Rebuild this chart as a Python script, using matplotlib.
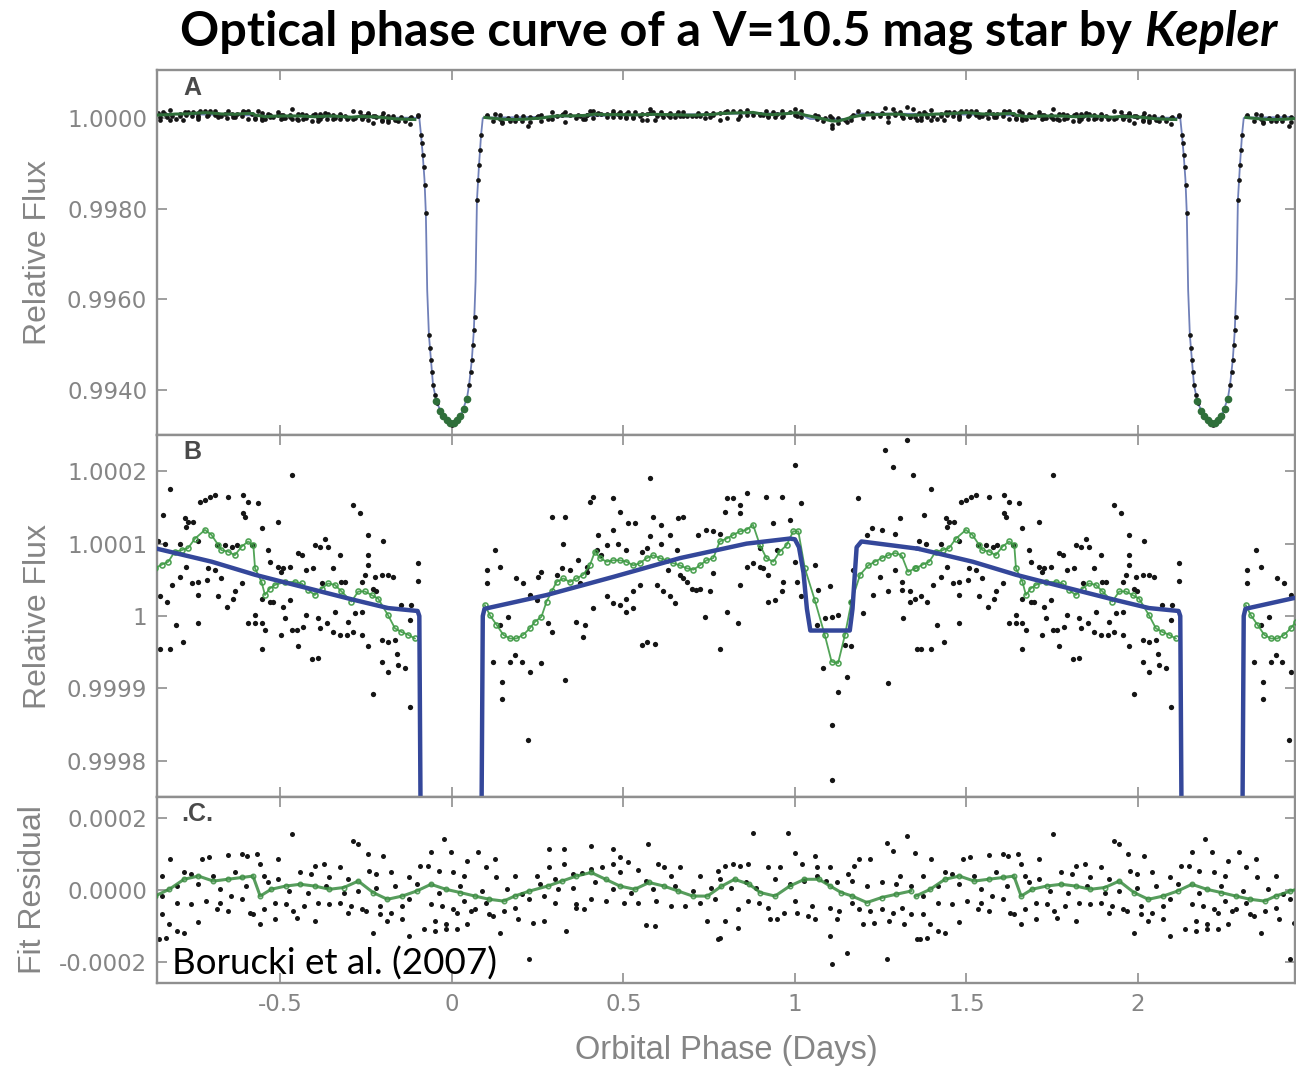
import numpy as np
import matplotlib
matplotlib.use('Agg')
from matplotlib import pyplot as plt

# orbital period used to fold the data (days)
period = 2.2186

# out-of-transit flux, (phase in days, deviation from 1 in ppm)
flux_dots = [
    # before transit
    (-0.467, 195), (-0.822, 176), (-0.842, 139), (-0.735, 158), (-0.720, 160), (-0.706, 165), (-0.691, 167),
    (-0.652, 165), (-0.608, 167), (-0.594, 158), (-0.565, 156), (-0.608, 142), (-0.604, 137), (-0.778, 135),
    (-0.769, 130), (-0.754, 130), (-0.774, 123), (-0.506, 130), (-0.555, 121), (-0.288, 153), (-0.268, 142),
    (-0.244, 112), (-0.200, 103), (-0.098, 73), (-0.098, 48), (-0.856, 103), (-0.837, 100), (-0.793, 100),
    (-0.740, 103), (-0.686, 98), (-0.662, 98), (-0.642, 96), (-0.628, 98), (-0.584, 98), (-0.400, 98),
    (-0.385, 96), (-0.370, 107), (-0.361, 96), (-0.536, 91), (-0.448, 87), (-0.438, 84), (-0.327, 84),
    (-0.244, 84), (-0.531, 75), (-0.506, 68), (-0.492, 66), (-0.472, 68), (-0.497, 61), (-0.424, 64),
    (-0.404, 66), (-0.346, 66), (-0.244, 70), (-0.254, 57), (-0.225, 54), (-0.205, 57), (-0.186, 57),
    (-0.171, 54), (-0.793, 54), (-0.774, 68), (-0.817, 43), (-0.759, 45), (-0.740, 47), (-0.715, 50),
    (-0.672, 52), (-0.613, 45), (-0.633, 34), (-0.638, 24), (-0.681, 27), (-0.740, 29), (-0.710, 66),
    (-0.691, 64), (-0.851, 27), (-0.832, 20), (-0.657, 13), (-0.555, 24), (-0.531, 20), (-0.521, 20),
    (-0.472, 22), (-0.492, 13), (-0.380, 45), (-0.322, 47), (-0.312, 47), (-0.263, 47), (-0.229, 38),
    (-0.220, 34), (-0.147, 15), (-0.118, 15), (-0.574, 1), (-0.594, -10), (-0.574, -10), (-0.555, -10),
    (-0.545, -19), (-0.487, -3), (-0.424, 1), (-0.390, -3), (-0.365, -10), (-0.341, 6), (-0.302, -8),
    (-0.283, 4), (-0.263, 6), (-0.803, -12), (-0.740, -10), (-0.497, -26), (-0.467, -19), (-0.453, -19),
    (-0.433, -15), (-0.385, -17), (-0.346, -22), (-0.327, -26), (-0.307, -26), (-0.288, -22), (-0.263, -26),
    (-0.205, -33), (-0.186, -36), (-0.166, -33), (-0.122, -6), (-0.783, -36), (-0.851, -45), (-0.822, -45),
    (-0.555, -45), (-0.448, -42), (-0.244, -42), (-0.409, -59), (-0.390, -58), (-0.205, -63), (-0.161, -52),
    (-0.186, -77), (-0.156, -68), (-0.137, -72), (-0.229, -107), (-0.122, -125),
    # after transit
    (0.125, 91), (0.101, 64), (0.140, 68), (0.101, 45), (0.188, 52), (0.208, 45), (0.227, 29), (0.247, 22),
    (0.261, 61), (0.252, 54), (0.291, 137), (0.329, 137), (0.325, 100), (0.305, 57), (0.320, 66), (0.344, 64),
    (0.368, 77), (0.393, 68), (0.402, 158), (0.412, 165), (0.470, 163), (0.490, 144), (0.514, 128),
    (0.534, 128), (0.427, 112), (0.451, 98), (0.470, 119), (0.485, 100), (0.509, 91), (0.422, 91),
    (0.436, 84), (0.373, 45), (0.393, 61), (0.412, 11), (0.451, 27), (0.470, 18), (0.490, 15), (0.509, 24),
    (0.529, 34), (0.548, 43), (0.509, 6), (0.529, 11), (0.577, 190), (0.587, 137), (0.611, 126), (0.660, 135),
    (0.674, 137), (0.577, 110), (0.611, 100), (0.636, 112), (0.553, 89), (0.568, 94), (0.655, 91), (0.597, 43),
    (0.616, 34), (0.636, 27), (0.650, 18), (0.665, 57), (0.674, 52), (0.684, 47), (0.699, 38), (0.713, 36),
    (0.723, 38), (0.752, 34), (0.631, 64), (0.762, 59), (0.718, 112), (0.742, 119), (0.762, 117), (0.781, 114),
    (0.801, 163), (0.820, 163), (0.840, 153), (0.840, 142), (0.859, 170), (0.796, 144), (0.917, 165),
    (0.961, 165), (0.985, 133), (0.937, 128), (1.000, 209), (0.898, 94), (0.947, 91), (0.859, 68), (0.878, 73),
    (0.898, 68), (0.908, 66), (0.922, 57), (0.840, 43), (0.966, 47), (0.961, 34), (0.922, 20), (0.942, 22),
    (0.738, -1), (0.801, 6), (0.835, -10), (0.781, -45), (0.553, -40), (0.568, -36), (0.592, -39), (0.363, -8),
    (0.388, -12), (0.383, -29), (0.120, -63), (0.169, -63), (0.184, -54), (0.203, -63), (0.261, -65),
    (0.227, -77), (0.145, -91), (0.145, -114), (0.329, -88), (0.223, -171), (0.281, -10), (0.291, -22),
    (0.164, -2), (0.140, -12),
    # around secondary eclipse
    (1.019, 156), (1.000, 75), (1.005, 47), (1.058, 70), (1.068, 36), (1.102, 41), (1.019, 27), (1.063, -12),
    (1.087, -3), (1.107, -1), (1.126, 1), (1.083, -72), (1.126, -105), (1.151, -84), (1.107, -151),
    (1.107, -227), (1.146, -40), (1.165, -42), (1.170, 64), (1.165, 20), (1.199, 4), (1.185, 163),
    (1.209, 112), (1.224, 121), (1.253, 119), (1.262, 230), (1.287, 206), (1.326, 243), (1.345, 195),
    (1.292, 114), (1.306, 135), (1.292, 64), (1.228, 29), (1.272, 34), (1.248, 54), (1.311, 47), (1.311, 36),
    (1.335, 34), (1.335, 20), (1.350, 24), (1.316, -3), (1.355, -45), (1.272, -93),
]

# in-transit flux (phase, ppm)
transit_dots = [
    (-0.090, -375), (-0.088, -550), (-0.085, -815), (-0.082, -1080), (-0.079, -1480), (-0.076, -2100),
    (-0.067, -4790), (-0.064, -5070), (-0.061, -5340), (-0.058, -5600), (-0.055, -5890), (-0.050, -6110),
    (-0.044, -6280), (-0.035, -6440), (-0.026, -6550), (-0.018, -6660), (-0.009, -6700), (0.000, -6770),
    (0.009, -6720), (0.018, -6660), (0.026, -6550), (0.035, -6400), (0.044, -6170), (0.050, -5890),
    (0.055, -5600), (0.058, -5340), (0.061, -5000), (0.064, -4680), (0.067, -4390), (0.073, -1810),
    (0.076, -1370), (0.079, -1040), (0.082, -710), (0.085, -375),
]

# binned flux (green), split around the transit
binned_pre = [
    (-0.866, 66), (-0.846, 71), (-0.827, 75), (-0.808, 89), (-0.788, 91), (-0.769, 94), (-0.749, 107),
    (-0.720, 119), (-0.701, 112), (-0.681, 98), (-0.672, 91), (-0.652, 89), (-0.633, 84), (-0.613, 96),
    (-0.594, 103), (-0.579, 98), (-0.574, 66), (-0.555, 47), (-0.545, 29), (-0.531, 38), (-0.516, 43),
    (-0.487, 47), (-0.458, 47), (-0.438, 45), (-0.419, 36), (-0.400, 29), (-0.380, 38), (-0.361, 45),
    (-0.341, 43), (-0.322, 34), (-0.293, 20), (-0.273, 34), (-0.254, 34), (-0.234, 29), (-0.215, 24),
    (-0.186, 1), (-0.166, -17), (-0.147, -22), (-0.127, -26), (-0.108, -31),
]
binned_post = [
    (0.096, 15), (0.111, 1), (0.130, -12), (0.150, -26), (0.169, -31), (0.188, -31), (0.208, -26),
    (0.227, -17), (0.242, -8), (0.261, -1), (0.276, 20), (0.291, 34), (0.305, 47), (0.325, 52), (0.344, 47),
    (0.363, 52), (0.383, 57), (0.402, 70), (0.417, 89), (0.432, 80), (0.451, 75), (0.470, 77), (0.490, 77),
    (0.509, 75), (0.529, 70), (0.548, 73), (0.568, 80), (0.587, 84), (0.606, 80), (0.626, 77), (0.645, 73),
    (0.665, 70), (0.684, 66), (0.704, 64), (0.723, 70), (0.742, 77), (0.762, 80), (0.781, 103), (0.801, 107),
    (0.820, 112), (0.840, 117), (0.859, 119), (0.878, 126), (0.898, 98), (0.917, 80), (0.937, 75),
    (0.956, 89), (0.976, 98), (0.995, 117), (1.010, 117), (1.029, 66), (1.058, 22), (1.087, -26),
    (1.107, -63), (1.126, -65), (1.146, -26), (1.165, 20), (1.190, 57), (1.214, 70), (1.233, 75),
    (1.253, 80), (1.272, 84), (1.292, 87), (1.311, 84), (1.330, 61), (1.350, 66),
]
binned_transit = [
    (-0.045, -6250), (-0.035, -6450), (-0.025, -6560), (-0.015, -6660), (-0.005, -6720),
    (0.005, -6720), (0.015, -6650), (0.025, -6560), (0.035, -6420), (0.045, -6200),
]

# model light curve (phase, ppm)
model = [
    (-0.860, 93), (-0.700, 75), (-0.574, 57), (-0.500, 48), (-0.283, 22), (-0.186, 11), (-0.100, 7),
    (-0.095, 0), (-0.090, -375), (-0.085, -815), (-0.080, -1350), (-0.076, -2100), (-0.072, -3800),
    (-0.067, -4790), (-0.061, -5340), (-0.055, -5890), (-0.044, -6280), (-0.030, -6500), (-0.015, -6670),
    (0.000, -6740), (0.015, -6660), (0.030, -6480), (0.044, -6170), (0.050, -5890), (0.058, -5340),
    (0.064, -4680), (0.069, -3600), (0.073, -1810), (0.079, -1040), (0.085, -375), (0.090, 0),
    (0.095, 10), (0.276, 29), (0.470, 54), (0.665, 80), (0.859, 100), (0.985, 107), (1.000, 106),
    (1.012, 95), (1.025, 60), (1.035, 10), (1.045, -20), (1.160, -20), (1.168, 10), (1.175, 60),
    (1.180, 95), (1.194, 103), (1.359, 93),
]

# residuals of the fit (phase, ppm)
resid_dots = [
    (-0.465, 156), (-0.288, 137), (-0.273, 128), (-0.023, 144), (0.284, 116), (0.326, 114), (0.406, 123),
    (0.469, 116), (0.573, 128), (-0.821, 88), (-0.728, 86), (-0.707, 91), (-0.654, 97), (-0.612, 100),
    (-0.596, 95), (-0.569, 100), (-0.559, 72), (-0.506, 88), (-0.400, 67), (-0.373, 72), (-0.326, 63),
    (-0.246, 100), (-0.200, 95), (-0.061, 105), (-0.002, 106), (0.077, 106), (0.045, 81), (0.125, 86),
    (0.326, 72), (0.491, 93), (0.512, 78), (0.284, 63), (0.438, 63), (0.379, 47), (0.406, 58), (0.469, 72),
    (0.544, 56), (0.602, 72), (0.618, 63), (0.665, 63), (0.724, 39), (0.777, 53), (-0.845, 39), (-0.781, 49),
    (-0.760, 44), (-0.696, 39), (-0.633, 49), (-0.548, 39), (-0.506, 30), (-0.442, 49), (-0.410, 44),
    (-0.357, 35), (-0.304, 30), (-0.241, 53), (-0.220, 44), (-0.177, 49), (-0.124, 35), (-0.092, 67),
    (-0.071, 67), (-0.039, 53), (0.003, 49), (0.035, 39), (0.098, 63), (0.130, 35), (0.183, 39), (0.247, 39),
    (0.300, 30), (0.353, 44), (0.491, 49), (0.565, 25), (0.639, 39), (-0.845, -17), (-0.802, -35),
    (-0.760, -40), (-0.718, -31), (-0.675, -35), (-0.643, -17), (-0.612, -26), (-0.580, -68), (-0.548, -54),
    (-0.516, -35), (-0.485, -40), (-0.463, -59), (-0.431, -45), (-0.389, -35), (-0.357, -40), (-0.326, -35),
    (-0.294, -45), (-0.262, -54), (-0.209, -45), (-0.177, -63), (-0.145, -45), (-0.124, -26), (-0.061, -40),
    (-0.029, -45), (0.003, -54), (0.035, -31), (0.067, -54), (0.098, -35), (0.120, -73), (0.151, -59),
    (0.183, -49), (0.226, -26), (0.268, -17), (0.300, -35), (0.363, -40), (0.406, -26), (0.448, -31),
    (0.501, -35), (0.544, -35), (0.596, -31), (0.639, -45), (0.681, -45), (0.724, -35), (0.766, -26),
    (-0.845, -68), (-0.824, -96), (-0.739, -89), (-0.686, -54), (-0.654, -59), (-0.590, -63), (-0.559, -96),
    (-0.516, -82), (-0.453, -77), (-0.400, -87), (-0.304, -63), (-0.251, -59), (-0.209, -68), (-0.188, -87),
    (-0.145, -82), (-0.050, -87), (-0.018, -96), (0.014, -63), (0.056, -59), (0.109, -68), (0.194, -82),
    (0.236, -91), (0.268, -87), (0.363, -49), (0.385, -54), (0.565, -99), (0.591, -102), (0.745, -87),
    (-0.802, -115), (-0.781, -119), (-0.855, -138), (-0.834, -133), (-0.230, -119), (-0.124, -128),
    (-0.082, -110), (-0.050, -115), (-0.018, -110), (0.014, -110), (0.045, -96), (0.141, -119), (0.332, -115),
    (0.226, -194), (0.777, -138),
    (-0.802, 11), (-0.739, 16), (-0.675, 2), (-0.601, 11), (-0.537, 21), (-0.474, -3), (-0.421, -7),
    (-0.368, 11), (-0.315, -7), (-0.273, -3), (-0.220, 7), (-0.167, 11), (-0.103, 16), (-0.039, -7),
    (0.024, 11), (0.088, -3), (0.162, 2), (0.204, -12), (0.257, 16), (0.310, 2), (0.353, 7), (0.416, 21),
    (0.469, 2), (0.522, -7), (0.586, 2), (0.649, 11), (0.702, -3), (0.755, 7),
    (0.878, 159), (0.979, 159), (0.797, 67), (0.819, 72), (0.840, 67), (0.862, 72), (0.921, 65), (0.958, 63),
    (1.001, 104), (1.022, 72), (1.060, 95), (1.065, 63), (1.103, 65), (1.188, 86), (1.172, 67), (1.220, 86),
    (1.269, 132), (1.285, 109), (1.328, 151), (1.349, 103), (0.781, 30), (0.813, 7), (0.856, 21), (0.888, 7),
    (0.942, 30), (0.985, 16), (1.028, 25), (1.065, 39), (1.092, 25), (1.124, 21), (1.156, 44), (1.167, 25),
    (1.210, 11), (1.253, 21), (1.295, 16), (1.306, 39), (1.338, 11), (0.862, -31), (0.894, -35), (0.921, -49),
    (0.926, -82), (0.947, -82), (0.969, -63), (1.006, -63), (1.001, -31), (1.049, -45), (1.103, -49),
    (1.130, -59), (1.167, -35), (1.188, -54), (1.220, -59), (1.253, -54), (1.285, -63), (1.312, -49),
    (1.338, -68), (0.797, -87), (0.835, -105), (0.835, -54), (0.781, -133), (1.060, -82), (1.124, -82),
    (1.199, -96), (1.231, -91), (1.274, -87), (1.317, -96), (1.357, -138), (1.103, -128), (1.151, -175),
    (1.108, -208), (1.269, -194), (1.038, -73),
]
resid_binned = [
    (-0.866, -17), (-0.824, 2), (-0.781, 30), (-0.739, 39), (-0.696, 25), (-0.654, 30), (-0.612, 35),
    (-0.580, 39), (-0.559, -17), (-0.527, 2), (-0.485, 11), (-0.442, 16), (-0.400, 11), (-0.357, 2),
    (-0.315, 7), (-0.273, 25), (-0.230, -7), (-0.188, -26), (-0.145, -17), (-0.103, -3), (-0.061, 16),
    (-0.018, 2), (0.024, -7), (0.067, -17), (0.109, -26), (0.151, -31), (0.183, -17), (0.226, -3),
    (0.279, 11), (0.321, 25), (0.363, 39), (0.406, 49), (0.448, 30), (0.490, 11), (0.533, 2), (0.575, 21),
    (0.618, 11), (0.660, -3), (0.702, -17), (0.745, -17), (0.785, 10), (0.824, 30), (0.867, 16),
    (0.899, -7), (0.942, -17), (0.985, 11), (1.028, 30), (1.070, 30), (1.103, 11), (1.135, -7), (1.167, -17),
    (1.210, -35), (1.253, -21), (1.295, -12), (1.338, -3),
]

xticks = [-0.5, 0, 0.5, 1, 1.5, 2]
xticklabels = ['-0.5', '0', '0.5', '1', '1.5', '2']
a_ticks = [0.9940, 0.9960, 0.9980, 1.0000]
a_labels = ['0.9940', '0.9960', '0.9980', '1.0000']
b_ticks = [0.9998, 0.9999, 1.0, 1.0001, 1.0002]
b_labels = ['0.9998', '0.9999', '1', '1.0001', '1.0002']
c_ticks = [-0.0002, 0.0, 0.0002]
c_labels = ['-0.0002', '0.0000', '0.0002']

gray = '#858585'
dot_col = '#151515'
green = '#3f9a45'


def arr(pairs):
    a = np.array(pairs, dtype=float)
    return a[:, 0], a[:, 1]


fig = plt.figure(figsize=(12.96, 10.66), dpi=100)
axA = fig.add_axes([0.1211, 0.5919, 0.8781, 0.3424])
axB = fig.add_axes([0.1211, 0.2523, 0.8781, 0.3396])
axC = fig.add_axes([0.1211, 0.0779, 0.8781, 0.1744])

for ax in (axA, axB, axC):
    for s in ax.spines.values():
        s.set_color('#8f8f8f')
        s.set_linewidth(1.7)
    ax.tick_params(direction='in', length=7, width=1.2, color='#8f8f8f', top=True, right=True,
                   labelsize=16.5, labelcolor=gray, pad=7)
    ax.set_xlim(-0.860, 2.458)
    ax.set_xticks(xticks)

# repeat the folded curve one period later
for shift in (0.0, period):
    ph, f = arr(model)
    axA.plot(ph + shift, 1 + f * 1e-6, color='#7080b8', lw=1.3, zorder=1)
    axB.plot(ph + shift, 1 + f * 1e-6, color='#34479a', lw=3.2, zorder=4)

    for pairs in (flux_dots, transit_dots):
        ph, f = arr(pairs)
        axA.plot(ph + shift, 1 + f * 1e-6, 'o', color=dot_col, ms=3.4, mew=0, zorder=2)
        axB.plot(ph + shift, 1 + f * 1e-6, 'o', color=dot_col, ms=3.8, mew=0, zorder=2)

    for pairs in (binned_pre, binned_post):
        ph, f = arr(pairs)
        axA.plot(ph + shift, 1 + f * 1e-6, '-', color='#2f6f3a', lw=2.2, zorder=3)
        axB.plot(ph + shift, 1 + f * 1e-6, '-o', color=green, lw=1.3, ms=3.6, mfc='none', mew=1.2,
                 zorder=3, alpha=0.9)
    ph, f = arr(binned_transit)
    axA.plot(ph + shift, 1 + f * 1e-6, 'o', color='#2f6f3a', ms=4.5, zorder=3)

    ph, f = arr(resid_dots)
    axC.plot(ph + shift, f * 1e-6, 'o', color=dot_col, ms=3.6, mew=0, zorder=2)
    ph, f = arr(resid_binned)
    axC.plot(ph + shift, f * 1e-6, '-o', color='#3a8c40', lw=2.2, ms=3.2, mfc='none', mew=1.1,
             zorder=3, alpha=0.85)

axA.set_ylim(0.99301, 1.00106)
axA.set_yticks(a_ticks)
axA.set_yticklabels(a_labels)
axB.set_ylim(0.99975, 1.00025)
axB.set_yticks(b_ticks)
axB.set_yticklabels(b_labels)
axC.set_ylim(-0.00026, 0.00026)
axC.set_yticks(c_ticks)
axC.set_yticklabels(c_labels)

axA.tick_params(labelbottom=False)
axB.tick_params(labelbottom=False)
axC.set_xticklabels(xticklabels)

lab_font = dict(fontsize=23, color=gray, family='Liberation Sans')
axA.set_ylabel('Relative Flux', **lab_font)
axB.set_ylabel('Relative Flux', **lab_font)
axC.set_ylabel('Fit Residual', **lab_font)
axA.yaxis.set_label_coords(-0.0914, 0.5)
axB.yaxis.set_label_coords(-0.0914, 0.5)
axC.yaxis.set_label_coords(-0.0958, 0.5)
axC.set_xlabel('Orbital Phase (Days)', fontsize=23.5, color=gray, family='Liberation Sans', labelpad=14)

letter = dict(fontsize=18, fontweight='bold', color='#4a4a4a', family='Liberation Sans', va='center')
axA.text(0.023, 0.951, 'A', transform=axA.transAxes, **letter)
axB.text(0.023, 0.953, 'B', transform=axB.transAxes, **letter)
axC.text(0.021, 0.91, '.C.', transform=axC.transAxes, **letter)

fig.text(172 / 1296, 1 - 975 / 1066, 'Borucki et al. (2007)', fontsize=26.5, family='Lato', va='baseline')

t1 = fig.text(180 / 1296, 1 - 46 / 1066, 'Optical phase curve of a V=10.5 mag star by ', fontsize=34.9,
              fontweight='bold', family='Lato', va='baseline')
fig.canvas.draw()
bb = t1.get_window_extent()
fig.text(bb.x1 / fig.bbox.width, 1 - 46 / 1066, 'Kepler', fontsize=34.9, fontweight='bold', style='italic',
         family='Lato', va='baseline')

plt.savefig('out.png', dpi=100)
